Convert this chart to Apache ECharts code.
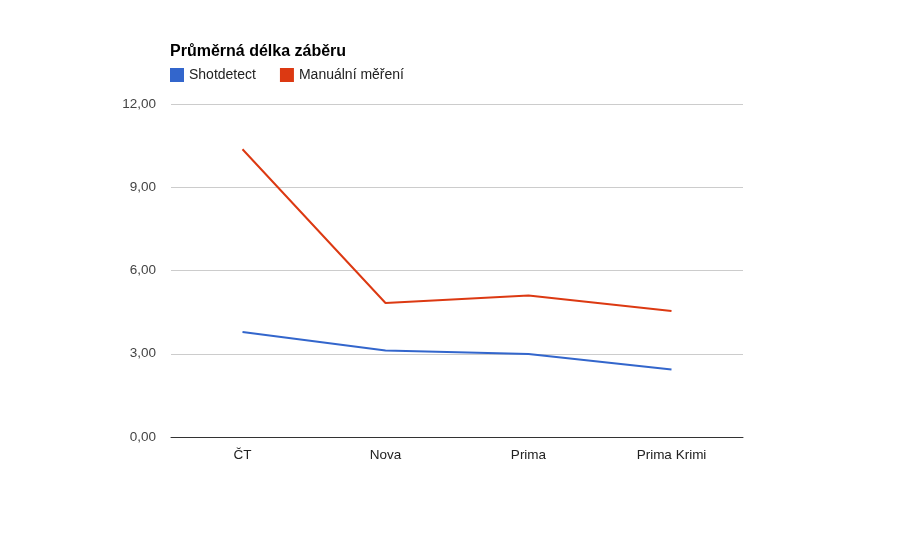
<!DOCTYPE html>
<html><head><meta charset="utf-8">
<script src="https://cdn.jsdelivr.net/npm/echarts@6/dist/echarts.min.js"></script>
<style>html,body{margin:0;padding:0;background:#fff}#c{width:912px;height:541px}</style>
</head><body><div id="c"></div>
<script>
var categories = ['ČT', 'Nova', 'Prima', 'Prima Krimi'];
var shotdetect = [3.78, 3.12, 2.99, 2.43];
var manualni = [10.37, 4.83, 5.10, 4.54];
var yTicks = [0, 3, 6, 9, 12];
var chart = echarts.init(document.getElementById('c'));
var font = 'Arial, "Liberation Sans", sans-serif';
chart.setOption({
  animation: false,
  title: { text: 'Průměrná délka záběru', left: 165, top: 39,
    textStyle: { fontFamily: font, fontSize: 16, fontWeight: 'bold', color: '#000' } },
  legend: { left: 165, top: 63, itemWidth: 14, itemHeight: 14, itemGap: 24, icon: 'rect',
    textStyle: { fontFamily: font, fontSize: 14, color: '#222' },
    data: ['Shotdetect', 'Manuální měření'] },
  grid: { left: 171, right: 169, top: 104, bottom: 104, containLabel: false },
  xAxis: { type: 'category', data: categories, boundaryGap: true,
    axisLine: { lineStyle: { color: '#333', width: 1 } }, axisTick: { show: false },
    axisLabel: { fontFamily: font, fontSize: 13.5, color: '#222', margin: 11 } },
  yAxis: { type: 'value', min: yTicks[0], max: yTicks[yTicks.length-1], interval: 3,
    axisLine: { show: false }, axisTick: { show: false },
    splitLine: { lineStyle: { color: '#ccc' } },
    axisLabel: { fontFamily: font, fontSize: 13.5, color: '#444', margin: 15,
      formatter: function (v) { return v.toFixed(2).replace('.', ','); } } },
  series: [
    { name: 'Shotdetect', type: 'line', data: shotdetect, symbol: 'none',
      itemStyle: { color: '#3366cc' }, lineStyle: { width: 2, color: '#3366cc' } },
    { name: 'Manuální měření', type: 'line', data: manualni, symbol: 'none',
      itemStyle: { color: '#dc3912' }, lineStyle: { width: 2, color: '#dc3912' } }
  ]
});
</script></body></html>
